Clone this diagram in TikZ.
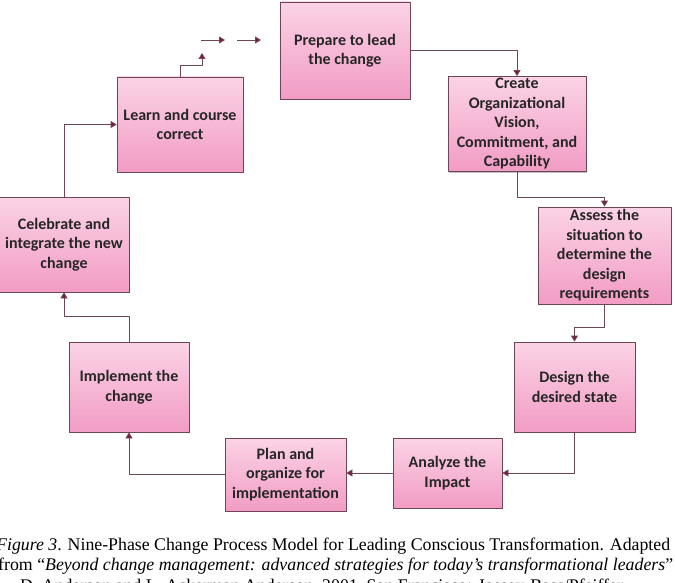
\documentclass[tikz,border=0pt]{standalone}
\usepackage{fontspec}
\setmainfont{Liberation Serif}
\newfontfamily\boxfont{Carlito}
\usetikzlibrary{arrows.meta,shadows}
\definecolor{boxtop}{HTML}{FBD3E6}
\definecolor{boxbot}{HTML}{F29CC4}
\definecolor{boxline}{HTML}{6E4556}
\definecolor{tipred}{HTML}{7B1A45}
\begin{document}
\begin{tikzpicture}[x=1pt,y=-1pt,line join=round,
	phase/.style={rectangle,draw=boxline,line width=.8pt,top color=boxtop,bottom color=boxbot,
		drop shadow={shadow xshift=1.2pt,shadow yshift=-1.2pt,opacity=.35,fill=black!70},
		align=center,inner sep=2pt,text=black!85,
		font=\boxfont\bfseries\fontsize{16}{19.5}\selectfont},
	link/.style={draw=boxline,line width=.8pt,-{Triangle[length=6pt,width=7pt,fill=tipred]}},
	figcap/.style={anchor=base west,inner sep=0pt,font=\fontsize{17.8}{20.5}\selectfont}]
	\clip (0,0) rectangle (675,583);
	\fill[white] (0,0) rectangle (675,583);
	%Các bước
	\node[phase,minimum width=130pt,minimum height=97pt] (prep) at (345,50.5) {Prepare to lead\\the change};
	\node[phase,minimum width=138pt,minimum height=94pt] (vision) at (517,124) {Create\\Organizational\\Vision,\\Commitment, and\\Capability};
	\node[phase,minimum width=133pt,minimum height=97pt] (assess) at (604.5,255.5) {Assess the\\situation to\\determine the\\design\\requirements};
	\node[phase,minimum width=121pt,minimum height=90pt] (design) at (574.5,387) {Design the\\desired state};
	\node[phase,minimum width=109pt,minimum height=70pt] (analyze) at (447.5,473) {Analyze the\\Impact};
	\node[phase,minimum width=121pt,minimum height=73pt] (plan) at (285.5,474.5) {Plan and\\organize for\\implementation};
	\node[phase,minimum width=120pt,minimum height=90pt] (implement) at (129,387) {Implement the\\change};
	\node[phase,minimum width=130pt,minimum height=95pt] (celebrate) at (64,244.5) {Celebrate and\\integrate the new\\change};
	\node[phase,minimum width=126pt,minimum height=95pt] (learn) at (180,124.5) {Learn and course\\correct};
	%Mũi tên nối
	\draw[link] (prep.east) -| (vision.north);
	\draw[link] (vision.south) -- ++(0,25) -| (assess.north);
	\draw[link] (assess.south) -- ++(0,23) -| (design.north);
	\draw[link] (design.south) |- (analyze.east);
	\draw[link] (analyze.west) -- (analyze.west -| plan.east);
	\draw[link] (plan.west) -| (implement.south);
	\draw[link] (implement.north) -- ++(0,-25) -| (celebrate.south);
	\draw[link] (celebrate.north) |- (learn.west);
	%Quay lại bước đầu
	\path (202,53) coordinate (L1)
	(201,40) coordinate (R1) (225,40) coordinate (R2)
	(237,40) coordinate (R3) (261,40) coordinate (R4);
	\draw[link] (learn.north) -- ++(0,-11) -| (L1);
	\draw[link] (R1) -- (R2);
	\draw[link] (R3) -- (R4);
	%Chú thích
	\node[figcap] (cap1) at (-4,550) {\textit{Figure 3}. Nine-Phase Change Process Model for Leading Conscious Transformation. Adapted};
	\node[figcap] (cap2) at (-2,570.5) {from “\textit{Beyond change management: advanced strategies for today’s transformational leaders}”};
	\node[figcap] (cap3) at (20,591) {D. Anderson and L. Ackerman Anderson, 2001, San Francisco: Jossey-Bass/Pfeiffer.};
\end{tikzpicture}
\end{document}
